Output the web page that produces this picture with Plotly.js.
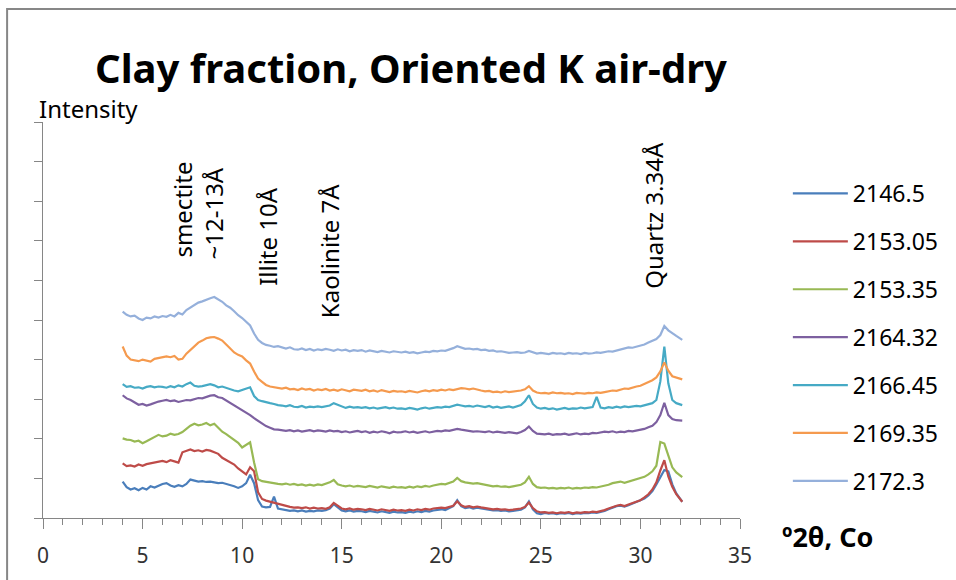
<!DOCTYPE html>
<html>
<head>
<meta charset="utf-8">
<script src="https://cdn.plot.ly/plotly-3.0.1.min.js"></script>
<style>html,body{margin:0;padding:0;background:#fff;}#chart{width:956px;height:580px;}</style>
</head>
<body>
<div id="chart"></div>
<script>
// 2θ positions (degrees, Co radiation)
const twoTheta = [
 4.0,4.2,4.4,4.6,4.8,5.0,5.2,5.4,5.6,5.8,
 6.0,6.2,6.4,6.6,6.8,7.0,7.2,7.4,7.6,7.8,
 8.0,8.2,8.4,8.6,8.8,9.0,9.2,9.4,9.6,9.8,
 10.0,10.2,10.4,10.6,10.8,11.0,11.2,11.4,11.6,11.8,
 12.0,12.2,12.4,12.6,12.8,13.0,13.2,13.4,13.6,13.8,
 14.0,14.2,14.4,14.6,14.8,15.0,15.2,15.4,15.6,15.8,
 16.0,16.2,16.4,16.6,16.8,17.0,17.2,17.4,17.6,17.8,
 18.0,18.2,18.4,18.6,18.8,19.0,19.2,19.4,19.6,19.8,
 20.0,20.2,20.4,20.6,20.8,21.0,21.2,21.4,21.6,21.8,
 22.0,22.2,22.4,22.6,22.8,23.0,23.2,23.4,23.6,23.8,
 24.0,24.2,24.4,24.6,24.8,25.0,25.2,25.4,25.6,25.8,
 26.0,26.2,26.4,26.6,26.8,27.0,27.2,27.4,27.6,27.8,
 28.0,28.2,28.4,28.6,28.8,29.0,29.2,29.4,29.6,29.8,
 30.0,30.2,30.4,30.6,30.8,31.0,31.2,31.4,31.6,31.8,
 32.1
];

const s2146_5 = [
 0.92,0.78,0.72,0.75,0.70,0.76,0.72,0.80,0.77,0.82,
 0.86,0.88,0.82,0.79,0.83,0.80,0.86,0.97,0.94,0.92,
 0.93,0.91,0.92,0.90,0.88,0.89,0.86,0.84,0.80,0.76,
 0.80,0.88,1.09,0.88,0.45,0.29,0.27,0.28,0.54,0.24,
 0.22,0.20,0.18,0.19,0.17,0.19,0.16,0.18,0.17,0.19,
 0.18,0.20,0.24,0.35,0.26,0.19,0.17,0.19,0.16,0.18,
 0.17,0.15,0.18,0.16,0.14,0.17,0.15,0.13,0.16,0.14,
 0.15,0.13,0.16,0.14,0.17,0.15,0.18,0.16,0.19,0.21,
 0.22,0.20,0.24,0.30,0.45,0.30,0.25,0.27,0.24,0.26,
 0.24,0.22,0.21,0.19,0.20,0.18,0.19,0.17,0.18,0.20,
 0.21,0.27,0.42,0.22,0.12,0.10,0.13,0.11,0.12,0.10,
 0.12,0.11,0.13,0.10,0.12,0.11,0.13,0.12,0.14,0.13,
 0.15,0.18,0.22,0.26,0.30,0.31,0.29,0.32,0.36,0.40,
 0.43,0.49,0.57,0.68,0.85,1.05,1.21,1.18,0.85,0.62,
 0.41
];

const s2153_05 = [
 1.38,1.31,1.33,1.30,1.35,1.32,1.36,1.38,1.40,1.42,
 1.44,1.41,1.46,1.43,1.40,1.66,1.70,1.73,1.69,1.71,
 1.68,1.72,1.70,1.66,1.62,1.52,1.46,1.40,1.35,1.25,
 1.18,1.10,1.28,1.18,0.65,0.48,0.44,0.41,0.38,0.35,
 0.33,0.30,0.28,0.26,0.27,0.25,0.27,0.24,0.26,0.24,
 0.25,0.23,0.27,0.38,0.30,0.24,0.22,0.24,0.21,0.23,
 0.22,0.20,0.23,0.21,0.19,0.22,0.20,0.18,0.21,0.19,
 0.20,0.18,0.21,0.19,0.22,0.20,0.23,0.21,0.24,0.25,
 0.26,0.25,0.28,0.31,0.42,0.32,0.28,0.30,0.27,0.29,
 0.27,0.25,0.24,0.22,0.23,0.21,0.22,0.20,0.21,0.23,
 0.24,0.28,0.39,0.25,0.17,0.14,0.15,0.13,0.14,0.12,
 0.14,0.13,0.15,0.12,0.14,0.13,0.15,0.14,0.16,0.15,
 0.17,0.20,0.24,0.28,0.31,0.33,0.30,0.34,0.38,0.42,
 0.45,0.52,0.60,0.72,0.90,1.20,1.46,1.05,0.79,0.60,
 0.41
];

const s2153_35 = [
 2.01,1.98,1.97,1.93,1.95,1.89,1.94,1.99,2.04,2.10,
 2.06,2.08,2.13,2.10,2.12,2.17,2.25,2.33,2.38,2.34,
 2.36,2.40,2.34,2.38,2.28,2.18,2.12,2.05,1.96,1.90,
 1.78,1.84,1.91,1.40,0.98,0.93,0.91,0.89,0.88,0.86,
 0.85,0.87,0.84,0.86,0.83,0.85,0.82,0.84,0.82,0.85,
 0.83,0.86,0.90,0.96,0.85,0.82,0.80,0.82,0.79,0.81,
 0.80,0.78,0.81,0.79,0.77,0.80,0.78,0.76,0.79,0.77,
 0.78,0.76,0.79,0.77,0.80,0.78,0.81,0.79,0.82,0.84,
 0.86,0.85,0.88,0.92,1.01,0.93,0.90,0.89,0.87,0.88,
 0.86,0.84,0.82,0.80,0.81,0.79,0.80,0.78,0.80,0.82,
 0.84,0.90,1.04,0.86,0.78,0.76,0.77,0.75,0.76,0.74,
 0.76,0.75,0.77,0.74,0.76,0.75,0.77,0.76,0.78,0.77,
 0.79,0.81,0.84,0.88,0.90,0.92,0.89,0.92,0.95,0.98,
 1.00,1.04,1.10,1.18,1.32,1.92,1.88,1.55,1.28,1.15,
 1.03
];

const s2164_32 = [
 3.10,3.02,2.98,2.92,2.86,2.88,2.84,2.87,2.91,2.94,
 2.96,2.98,2.95,2.97,2.93,2.96,2.98,2.97,3.01,3.03,
 3.02,3.06,3.09,3.10,3.05,3.03,2.97,2.91,2.86,2.80,
 2.74,2.67,2.60,2.52,2.45,2.38,2.32,2.28,2.24,2.23,
 2.22,2.20,2.22,2.19,2.21,2.18,2.20,2.22,2.19,2.21,
 2.20,2.18,2.21,2.19,2.20,2.17,2.19,2.16,2.18,2.20,
 2.17,2.19,2.15,2.18,2.16,2.19,2.17,2.14,2.18,2.16,
 2.17,2.19,2.16,2.18,2.15,2.17,2.19,2.16,2.18,2.20,
 2.19,2.21,2.20,2.22,2.25,2.23,2.21,2.20,2.18,2.19,
 2.18,2.17,2.19,2.16,2.18,2.17,2.15,2.17,2.16,2.14,
 2.17,2.22,2.31,2.20,2.13,2.12,2.11,2.13,2.10,2.12,
 2.11,2.13,2.10,2.12,2.14,2.11,2.13,2.12,2.15,2.14,
 2.16,2.18,2.17,2.19,2.16,2.18,2.17,2.20,2.19,2.21,
 2.22,2.25,2.29,2.33,2.42,2.60,2.91,2.60,2.50,2.47,
 2.46
];

const s2166_45 = [
 3.38,3.31,3.33,3.29,3.30,3.27,3.31,3.33,3.30,3.32,
 3.31,3.29,3.33,3.30,3.35,3.32,3.38,3.42,3.34,3.32,
 3.33,3.36,3.38,3.35,3.30,3.32,3.28,3.25,3.22,3.20,
 3.24,3.27,3.30,3.08,2.98,2.95,2.92,2.90,2.88,2.85,
 2.84,2.82,2.85,2.81,2.80,2.83,2.79,2.81,2.80,2.82,
 2.80,2.82,2.84,2.90,2.86,2.80,2.78,2.81,2.79,2.80,
 2.78,2.80,2.77,2.79,2.76,2.78,2.80,2.77,2.79,2.76,
 2.77,2.75,2.78,2.76,2.74,2.77,2.79,2.76,2.78,2.80,
 2.79,2.81,2.80,2.83,2.86,2.84,2.82,2.83,2.81,2.84,
 2.82,2.80,2.83,2.79,2.81,2.78,2.80,2.82,2.79,2.83,
 2.85,2.95,3.10,2.88,2.79,2.76,2.78,2.75,2.77,2.74,
 2.76,2.78,2.75,2.77,2.76,2.79,2.77,2.78,2.80,3.06,
 2.79,2.77,2.80,2.78,2.81,2.79,2.82,2.80,2.81,2.83,
 2.82,2.85,2.87,2.90,2.98,3.45,4.33,3.40,2.98,2.90,
 2.85
];

const s2169_35 = [
 4.33,4.10,4.00,3.98,3.96,4.00,3.97,3.95,4.02,4.04,
 4.05,4.08,4.06,4.09,4.00,4.02,4.15,4.25,4.33,4.43,
 4.48,4.54,4.56,4.57,4.53,4.48,4.38,4.27,4.18,4.12,
 4.08,3.98,3.90,3.70,3.52,3.44,3.36,3.32,3.30,3.28,
 3.27,3.29,3.25,3.26,3.23,3.27,3.24,3.26,3.22,3.25,
 3.23,3.26,3.22,3.24,3.21,3.25,3.23,3.20,3.24,3.22,
 3.21,3.24,3.20,3.22,3.19,3.23,3.20,3.18,3.21,3.19,
 3.20,3.18,3.21,3.19,3.17,3.20,3.22,3.20,3.23,3.21,
 3.24,3.22,3.25,3.23,3.26,3.28,3.27,3.25,3.27,3.24,
 3.22,3.20,3.21,3.18,3.19,3.17,3.20,3.18,3.19,3.21,
 3.22,3.25,3.33,3.22,3.17,3.15,3.16,3.14,3.17,3.15,
 3.16,3.14,3.15,3.13,3.16,3.15,3.14,3.16,3.15,3.17,
 3.16,3.18,3.20,3.22,3.21,3.24,3.27,3.26,3.30,3.32,
 3.34,3.38,3.42,3.48,3.55,3.70,3.93,3.72,3.58,3.55,
 3.50
];

const s2172_3 = [
 5.21,5.13,5.09,5.11,5.04,5.00,5.06,5.04,5.09,5.06,
 5.10,5.08,5.13,5.09,5.18,5.14,5.25,5.31,5.37,5.44,
 5.47,5.52,5.55,5.58,5.52,5.46,5.37,5.31,5.22,5.12,
 5.05,4.96,4.86,4.66,4.50,4.42,4.37,4.35,4.32,4.34,
 4.30,4.28,4.31,4.26,4.25,4.28,4.24,4.27,4.23,4.26,
 4.24,4.27,4.25,4.22,4.26,4.23,4.25,4.21,4.24,4.22,
 4.24,4.20,4.23,4.21,4.19,4.22,4.20,4.18,4.21,4.19,
 4.18,4.20,4.17,4.19,4.16,4.18,4.20,4.19,4.22,4.21,
 4.23,4.22,4.25,4.29,4.34,4.30,4.27,4.28,4.26,4.27,
 4.24,4.25,4.22,4.23,4.20,4.21,4.19,4.17,4.18,4.19,
 4.17,4.18,4.22,4.18,4.15,4.17,4.16,4.14,4.17,4.15,
 4.16,4.14,4.17,4.15,4.16,4.14,4.17,4.15,4.16,4.18,
 4.17,4.19,4.21,4.20,4.23,4.26,4.29,4.31,4.30,4.33,
 4.35,4.38,4.43,4.48,4.52,4.62,4.85,4.74,4.66,4.60,
 4.50
];

const seriesNames = ["2146.5","2153.05","2153.35","2164.32","2166.45","2169.35","2172.3"];
const seriesValues = [s2146_5, s2153_05, s2153_35, s2164_32, s2166_45, s2169_35, s2172_3];
const seriesColors = ["#4A7EBB","#BE4B48","#98B954","#7D60A0","#46AAC5","#F59A4E","#95B0DB"];

const peakLabels = ["smectite","~12-13Å","Illite 10Å","Kaolinite 7Å","Quartz 3.34Å"];
const xTickVals = [0,5,10,15,20,25,30,35];

// layout helpers (plot area in pixels)
const L = 43, R = 742, T = 122, B = 518;
const px = v => (v - L) / (R - L);
const py = v => (B - v) / (B - T);

const FONT = "Noto Sans, Open Sans, sans-serif";

const traces = seriesNames.map((n, i) => ({
  type: "scatter", mode: "lines", name: n,
  x: twoTheta, y: seriesValues[i],
  line: {color: seriesColors[i], width: 2.2},
  legendgroup: "g" + i,
  hoverinfo: "skip"
}));

const labelPos = [
  {x:182, y:260}, {x:213, y:262}, {x:268, y:288}, {x:330, y:320}, {x:655, y:291}
];

const annotations = peakLabels.map((t, i) => ({
  text: t, xref: "paper", yref: "paper",
  x: px(labelPos[i].x), y: py(labelPos[i].y),
  xanchor: "center", yanchor: "bottom", textangle: -90,
  showarrow: false, font: {family: FONT, size: 24, color: "#000"}
}));
annotations.push({
  text: "Intensity", xref: "paper", yref: "paper",
  x: px(37), y: py(109), xanchor: "left", yanchor: "middle",
  showarrow: false, font: {family: FONT, size: 24, color: "#000"}
});
annotations.push({
  text: "º2θ, Co", xref: "paper", yref: "paper",
  x: px(830), y: py(536), xanchor: "center", yanchor: "middle",
  showarrow: false, font: {family: FONT, size: 27, color: "#000", weight: "bold"}
});

const layout = {
  width: 956, height: 580,
  margin: {l: L, r: 956 - R, t: T, b: 580 - B, pad: 0},
  paper_bgcolor: "#fff", plot_bgcolor: "#fff",
  title: {
    text: "Clay fraction, Oriented K air-dry",
    font: {family: FONT, size: 40, color: "#000", weight: "bold"},
    xref: "paper", x: px(412), xanchor: "center",
    yref: "container", y: 1 - 69/580, yanchor: "middle"
  },
  xaxis: {
    range: [0, 35], tickvals: xTickVals, ticks: "outside", ticklen: 10,
    tickcolor: "#868686", tickwidth: 1,
    minor: {dtick: 1, ticks: "outside", ticklen: 6, tickcolor: "#868686", tickwidth: 1},
    showline: true, linecolor: "#868686", linewidth: 1,
    showgrid: false, zeroline: false, ticklabelstandoff: 9,
    tickfont: {family: FONT, size: 21, color: "#333"}
  },
  yaxis: {
    range: [0, 10], dtick: 1, ticks: "outside", ticklen: 8,
    tickcolor: "#868686", showticklabels: false,
    showline: true, linecolor: "#868686", linewidth: 1,
    showgrid: false, zeroline: false
  },
  legend: {
    x: px(790), y: py(172), xanchor: "left", yanchor: "top",
    traceorder: "grouped", tracegroupgap: 15, itemwidth: 55,
    font: {family: FONT, size: 23, color: "#000"},
    bgcolor: "rgba(0,0,0,0)", borderwidth: 0
  },
  shapes: [{
    type: "rect", xref: "paper", yref: "paper",
    x0: px(7), y0: py(700), x1: px(1100), y1: py(9),
    line: {color: "#878787", width: 2}, fillcolor: "rgba(0,0,0,0)", layer: "above"
  }],
  annotations: annotations,
  showlegend: true
};

Plotly.newPlot("chart", traces, layout, {displayModeBar: false, staticPlot: true});
</script>
</body>
</html>
